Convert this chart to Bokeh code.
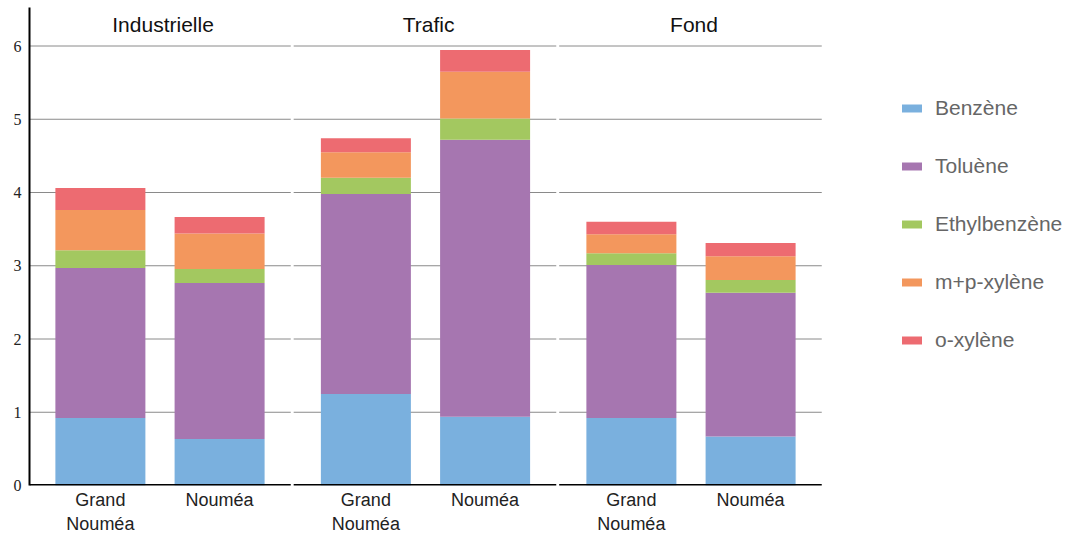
from bokeh.plotting import figure
from bokeh.models import ColumnDataSource, FixedTicker, Range1d
from bokeh.core.properties import value
from bokeh.embed import file_html
from bokeh.resources import INLINE

# ---- data ----
groups = ["Industrielle", "Trafic", "Fond"]
sites = ["Grand\nNouméa", "Nouméa"]
compounds = ["Benzène", "Toluène", "Ethylbenzène", "m+p-xylène", "o-xylène"]
# order of bars: Industrielle GN, Industrielle N, Trafic GN, Trafic N, Fond GN, Fond N
benzene = [0.92, 0.635, 1.25, 0.94, 0.92, 0.67]
toluene = [2.05, 2.13, 2.73, 3.78, 2.09, 1.96]
ethylbenzene = [0.24, 0.19, 0.22, 0.29, 0.16, 0.175]
mp_xylene = [0.55, 0.485, 0.35, 0.64, 0.26, 0.325]
o_xylene = [0.30, 0.225, 0.19, 0.295, 0.17, 0.18]
y_ticks = [0, 1, 2, 3, 4, 5, 6]

colors = ["#7AB0DE", "#A676B0", "#A3C860", "#F3975D", "#ED6B71"]

# ---- layout constants ----
W, H = 1068, 537
LEFT = 29
TOP = 7
BOTTOM = 52
UNIT_PX = 265.5
offsets = [0.267, 0.716]
bar_w = 0.339
x_end = (W - LEFT) / UNIT_PX
y_end = (H - TOP - BOTTOM) / 73.25

xs = []
labels = {}
for gi in range(len(groups)):
    for si in range(len(sites)):
        xv = round(gi + offsets[si], 4)
        xs.append(xv)
        labels[xv] = sites[si]

keys = ["benzene", "toluene", "ethyl", "mp", "o"]
src = ColumnDataSource(dict(x=xs, benzene=benzene, toluene=toluene,
                            ethyl=ethylbenzene, mp=mp_xylene, o=o_xylene))

p = figure(width=W, height=H, output_backend="svg", toolbar_location=None,
           x_range=Range1d(0, x_end), y_range=Range1d(0, y_end),
           min_border_left=LEFT, min_border_right=0, min_border_top=TOP,
           min_border_bottom=BOTTOM)
p.outline_line_color = None
p.xgrid.visible = False
p.ygrid.visible = False
p.background_fill_color = "white"

# panel gridlines (with gaps between panels)
seg_x0, seg_x1, seg_y = [], [], []
for gi in range(len(groups)):
    for t in y_ticks[1:]:
        seg_x0.append(max(gi - 0.005, 0))
        seg_x1.append(gi + 0.984)
        seg_y.append(t)
p.segment(x0=seg_x0, y0=seg_y, x1=seg_x1, y1=seg_y, line_color="#8a8a8a",
          line_width=1)

# bars
p.vbar_stack(keys, x="x", width=bar_w, source=src, fill_color=colors,
             line_color=None, legend_label=compounds)

# bottom baseline with gaps
b0 = [max(gi - 0.005, 0) for gi in range(len(groups))]
b1 = [gi + 0.984 for gi in range(len(groups))]
p.segment(x0=b0, y0=[0] * 3, x1=b1, y1=[0] * 3, line_color="black",
          line_width=3)

# panel titles
p.text(x=[gi + 0.503 for gi in range(len(groups))], y=[6.29] * 3, text=groups,
       text_align="center", text_baseline="middle",
       text_font=value("Liberation Sans"), text_font_size="21px",
       text_color="#111111")

# y axis
ya = p.yaxis[0]
ya.ticker = FixedTicker(ticks=y_ticks)
ya.axis_line_color = "black"
ya.axis_line_width = 2
ya.major_tick_out = 0
ya.major_tick_in = 0
ya.minor_tick_line_color = None
ya.major_label_standoff = 8
ya.major_label_text_font = "Liberation Serif"
ya.major_label_text_font_size = "16px"
ya.major_label_text_color = "#222222"

# x axis
xa = p.xaxis[0]
xa.ticker = FixedTicker(ticks=xs)
xa.major_label_overrides = labels
xa.axis_line_color = None
xa.major_tick_line_color = None
xa.major_tick_out = 0
xa.major_tick_in = 0
xa.minor_tick_line_color = None
xa.major_label_standoff = 4
xa.major_label_text_font = "Liberation Sans"
xa.major_label_text_font_size = "18px"
xa.major_label_text_color = "#222222"

# legend
leg = p.legend[0]
leg.location = (870, 133)
leg.glyph_width = 25
leg.glyph_height = 10
leg.label_standoff = 11
leg.label_height = 24
leg.spacing = 34
leg.padding = 0
leg.margin = 0
leg.border_line_color = None
leg.background_fill_alpha = 0
leg.label_text_font = "Liberation Sans"
leg.label_text_font_size = "21px"
leg.label_text_color = "#666666"

open("out.html", "w").write(file_html(p, INLINE))
